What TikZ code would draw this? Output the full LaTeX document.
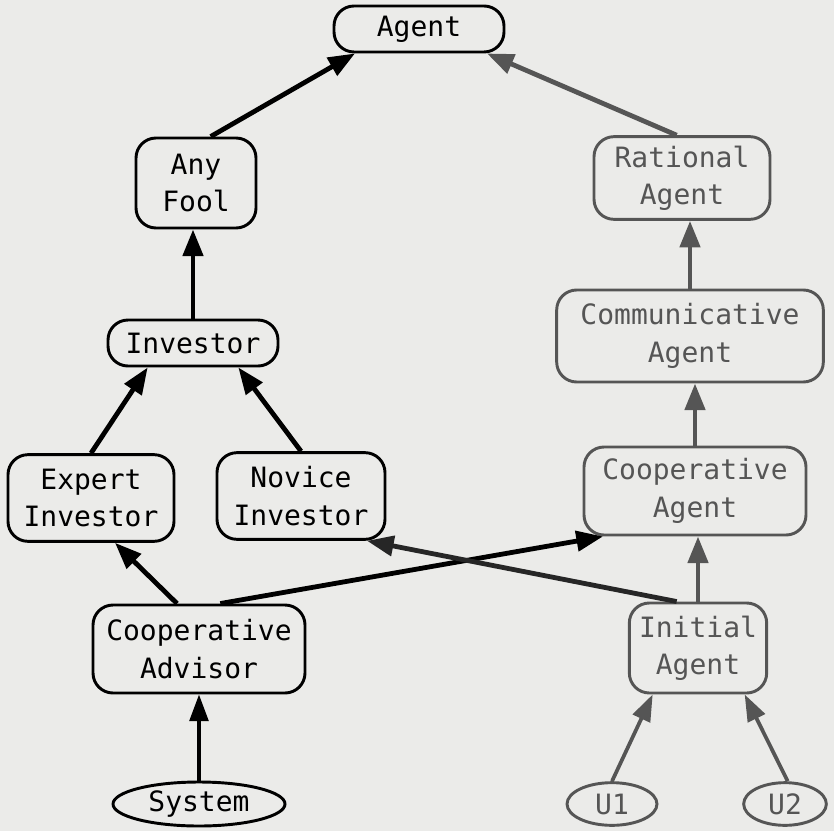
\documentclass[tikz,border=0pt]{standalone}
\usepackage{fontspec}
\usepackage{xcolor}
\usepackage{tikz}
\usetikzlibrary{arrows.meta,shapes.geometric}
\newfontfamily\diagfont{DejaVu Sans Mono}
\definecolor{paper}{RGB}{235,235,233}
\definecolor{fadegray}{RGB}{85,85,85}

\begin{document}
\begin{tikzpicture}[x=0.75pt, y=-0.75pt,
    every node/.style={font=\diagfont\fontsize{21}{28}\selectfont},
    classbox/.style={draw, rectangle, rounded corners=15pt, line width=2.2pt, align=center, inner sep=2pt},
    userleaf/.style={draw, ellipse, line width=2.2pt, inner sep=1pt},
    faded/.style={draw=fadegray, text=fadegray},
    isa/.style={line width=3.6pt, -{Triangle[length=20pt, width=15pt]}},
    thinisa/.style={line width=2.8pt, -{Triangle[length=20pt, width=14pt]}}]
    % Paper
    \fill[paper] (0,0) rectangle (834,831);

    % Top level
    \node[classbox, minimum width=127.5pt, minimum height=34.5pt] (agent) at (419, 29) {Agent};

    % Left branch
    \node[classbox, minimum width=90pt, minimum height=67.5pt] (anyfool) at (196, 183) {Any\\Fool};
    \node[classbox, minimum width=127.5pt, minimum height=34.5pt] (investor) at (193, 343) {Investor};
    \node[classbox, minimum width=124.5pt, minimum height=65pt] (expert) at (91, 498) {Expert\\Investor};
    \node[classbox, minimum width=126pt, minimum height=65pt] (novice) at (301, 496) {Novice\\Investor};
    \node[classbox, minimum width=159pt, minimum height=66pt] (advisor) at (199, 649) {Cooperative\\Advisor};
    \node[userleaf, minimum width=129pt, minimum height=33pt] (system) at (199, 804) {System};

    % Right branch
    \node[classbox, faded, minimum width=132pt, minimum height=62pt] (rational) at (682, 178) {Rational\\Agent};
    \node[classbox, faded, minimum width=200pt, minimum height=69pt] (comm) at (690, 336) {Communicative\\Agent};
    \node[classbox, faded, minimum width=166.5pt, minimum height=66pt] (coopagent) at (695, 491) {Cooperative\\Agent};
    \node[classbox, faded, minimum width=103pt, minimum height=67.5pt] (initial) at (698, 648) {Initial\\Agent};
    \node[userleaf, faded, minimum width=67.5pt, minimum height=32pt] (u1) at (612, 804) {U1};
    \node[userleaf, faded, minimum width=62pt, minimum height=32pt] (u2) at (785, 804) {U2};

    % Links, left
    \draw[isa] ([xshift=11pt]anyfool.north) -- ([xshift=-48pt]agent.south);
    \draw[isa] (investor.north) -- (investor.north |- anyfool.south);
    \draw[isa] (expert.north) -- ([xshift=-34pt]investor.south);
    \draw[isa] (novice.north) -- ([xshift=34pt]investor.south);
    \draw[isa] ([xshift=-16.5pt]advisor.north) -- ([xshift=18pt]expert.south);
    \draw[thinisa] (system.north) -- (advisor.south);

    % Links, right
    \draw[isa, fadegray] ([xshift=-4pt]rational.north) -- ([xshift=51pt]agent.south);
    \draw[isa, fadegray] (comm.north) -- (comm.north |- rational.south);
    \draw[isa, fadegray] (coopagent.north) -- (coopagent.north |- comm.south);
    \draw[isa, fadegray] (initial.north) -- (initial.north |- coopagent.south);
    \draw[thinisa, fadegray] (u1.north) -- ([xshift=-34pt]initial.south);
    \draw[thinisa, fadegray] ([xshift=2pt]u2.north) -- ([xshift=35pt]initial.south);

    % Crossing links
    \draw[isa] ([xshift=16pt]advisor.north) -- ([xshift=-69pt]coopagent.south);
    \draw[isa, black!85] ([xshift=-16pt]initial.north) -- ([xshift=49.5pt]novice.south);
\end{tikzpicture}
\end{document}
